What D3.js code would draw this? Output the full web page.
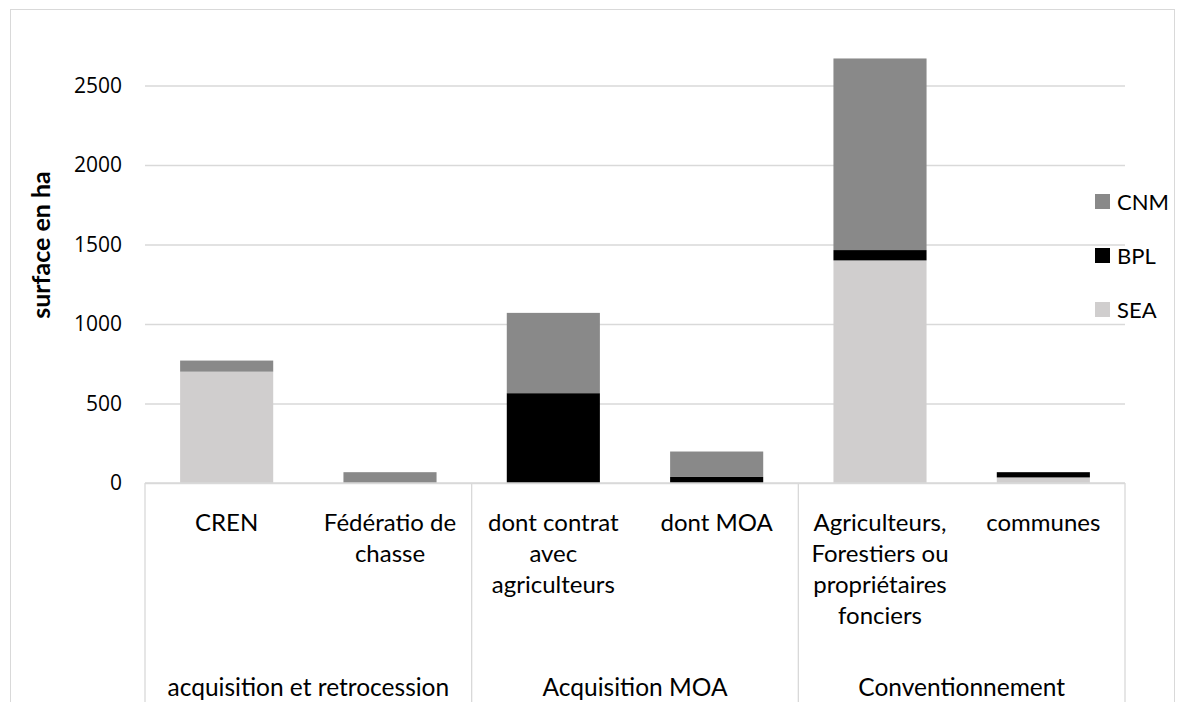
<!DOCTYPE html>
<html>
<head>
<meta charset="utf-8">
<script src="https://cdn.jsdelivr.net/npm/d3@7"></script>
<style>
  body { margin: 0; background: #fff; }
  text { font-family: "Open Sans", sans-serif; fill: #000; }
  .lbl { font-family: Lato, "Open Sans", sans-serif; }
</style>
</head>
<body>
<div class="container"></div>
<script>
// ---------------- DATA ----------------
const categories = ["CREN", "Fédératio de chasse", "dont contrat avec agriculteurs", "dont MOA",
    "Agriculteurs, Forestiers ou propriétaires fonciers", "communes"];
const categoryLines = [["CREN"], ["Fédératio de", "chasse"], ["dont contrat", "avec", "agriculteurs"],
    ["dont MOA"], ["Agriculteurs,", "Forestiers ou", "propriétaires", "fonciers"], ["communes"]];
const groups = ["acquisition et retrocession", "Acquisition MOA", "Conventionnement"];
const groupSizes = [2, 2, 2];
const seriesNames = ["SEA", "BPL", "CNM"];
const SEA = [700, 0, 0, 0, 1400, 35];
const BPL = [0, 0, 565, 38, 65, 33];
const CNM = [70, 68, 505, 160, 1205, 0];
const yTicks = [0, 500, 1000, 1500, 2000, 2500];
const colors = { SEA: "#d0cece", BPL: "#000000", CNM: "#898989" };

// ---------------- SVG ----------------
const W = 1185, H = 702;
const svg = d3.select(".container").append("svg")
    .attr("width", W).attr("height", H);

// chart border
svg.append("rect")
    .attr("x", 10.5).attr("y", 9.5)
    .attr("width", 1164).attr("height", 700)
    .attr("fill", "none").attr("stroke", "#d9d9d9");

const plot = { left: 145, right: 1125, bottom: 483 };

// ---------------- SCALES ----------------
const x = d3.scaleBand().domain(categories)
    .range([plot.left, plot.right])
    .paddingInner(0.43).paddingOuter(0.215);
const y = d3.scaleLinear().domain([0, 2500])
    .range([plot.bottom, 85.5]);

const table = categories.map((c, i) => ({ cat: c, SEA: SEA[i], BPL: BPL[i], CNM: CNM[i] }));
const stacked = d3.stack().keys(seriesNames)(table);

// ---------------- GRID / Y AXIS ----------------
const yAxis = d3.axisLeft(y).tickValues(yTicks)
    .tickFormat(d3.format("d"))
    .tickSize(-(plot.right - plot.left)).tickPadding(23);
const gy = svg.append("g")
    .attr("transform", "translate(" + plot.left + ",0)")
    .call(yAxis);
gy.select(".domain").remove();
gy.selectAll(".tick line").attr("stroke", "#d9d9d9").attr("stroke-width", 1.3);
gy.selectAll(".tick text").style("font-size", "21px");

// ---------------- BARS ----------------
svg.append("g").selectAll("g")
    .data(stacked)
    .enter().append("g")
    .attr("fill", d => colors[d.key])
    .selectAll("rect")
    .data(d => d)
    .enter().append("rect")
    .attr("x", d => x(d.data.cat))
    .attr("width", x.bandwidth())
    .attr("y", d => y(d[1]))
    .attr("height", d => y(d[0]) - y(d[1]));

// ---------------- CATEGORY AXIS ----------------
svg.append("line")
    .attr("x1", plot.left).attr("x2", plot.right)
    .attr("y1", plot.bottom).attr("y2", plot.bottom)
    .attr("stroke", "#d9d9d9").attr("stroke-width", 1.3);

const catLabels = svg.append("g").selectAll("text")
    .data(categories)
    .enter().append("text")
    .attr("class", "lbl")
    .attr("text-anchor", "middle")
    .style("font-size", "24px");
catLabels.each(function (d, i) {
    const t = d3.select(this);
    categoryLines[i].forEach((line, k) => {
        t.append("tspan")
            .attr("x", x(d) + x.bandwidth() / 2)
            .attr("y", 531 + k * 31)
            .text(line);
    });
});

// group separators and labels
let start = 0;
const step = x.step();
const bounds = [plot.left];
groupSizes.forEach(n => { start += n; bounds.push(plot.left + start * step); });
svg.append("g").selectAll("line")
    .data(bounds)
    .enter().append("line")
    .attr("x1", d => d).attr("x2", d => d)
    .attr("y1", plot.bottom).attr("y2", H)
    .attr("stroke", "#d9d9d9").attr("stroke-width", 1.3);

svg.append("g").selectAll("text")
    .data(groups)
    .enter().append("text")
    .attr("class", "lbl")
    .attr("text-anchor", "middle")
    .style("font-size", "24.5px")
    .attr("x", (d, i) => (bounds[i] + bounds[i + 1]) / 2)
    .attr("y", 696)
    .text(d => d);

// ---------------- Y TITLE ----------------
svg.append("text")
    .attr("class", "lbl")
    .attr("transform", "translate(50,245) rotate(-90)")
    .attr("text-anchor", "middle")
    .style("font-size", "25px")
    .style("font-weight", "bold")
    .text("surface en ha");

// ---------------- LEGEND ----------------
const legendKeys = seriesNames.slice().reverse();
const legend = svg.append("g").selectAll("g")
    .data(legendKeys)
    .enter().append("g")
    .attr("transform", (d, i) => "translate(1095," + (194 + i * 54) + ")");
legend.append("rect")
    .attr("width", 15).attr("height", 15)
    .attr("fill", d => colors[d]);
legend.append("text")
    .attr("class", "lbl")
    .attr("x", 22).attr("y", 16)
    .style("font-size", "22px")
    .text(d => d);
</script>
</body>
</html>
